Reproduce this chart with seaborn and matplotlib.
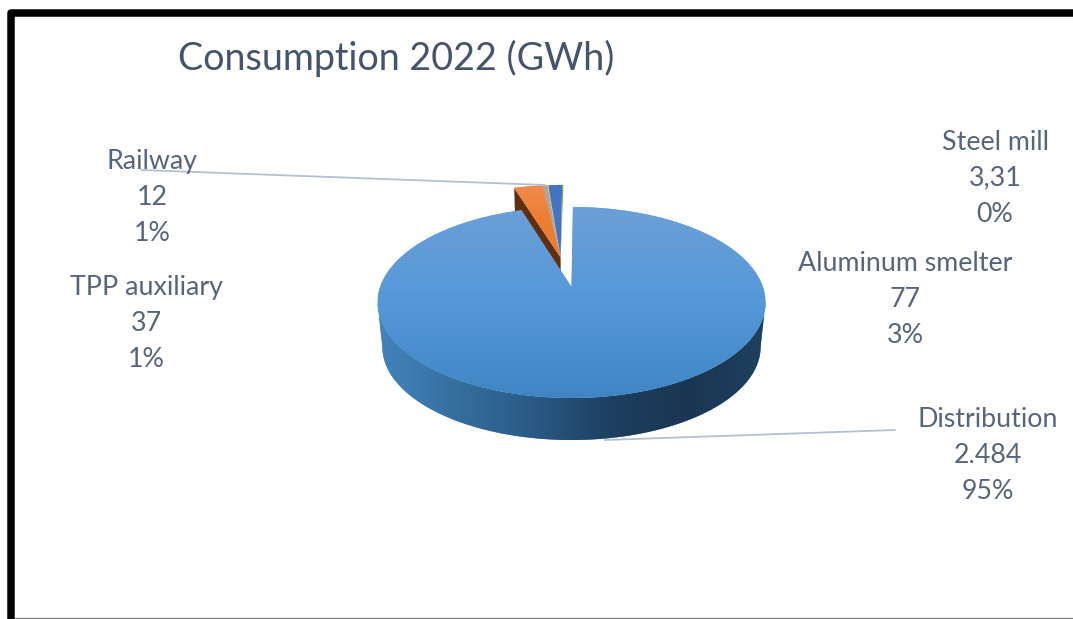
# -*- coding: utf-8 -*-
# Consumption 2022 pie, tilted Excel style
import numpy as np
import seaborn as sns
import matplotlib.pyplot as plt
from matplotlib.colors import LinearSegmentedColormap

sns.set_theme(style="white")
plt.rcParams['font.family'] = ['Lato', 'DejaVu Sans']

#%% Data
title = "Consumption 2022 (GWh)"
categories = ["Distribution", "Aluminum smelter", "Railway", "Other", "TPP auxiliary", "Steel mill"]
values = [2484, 77, 12, 2, 37, 3.31]
value_labels = ["2.484", "77", "12", "", "37", "3,31"]
pct_labels = ["95%", "3%", "1%", "", "1%", "0%"]
colors = sns.color_palette(["#5B9BD5", "#ED7D31", "#A5A5A5", "#FFC000", "#4472C4", "#70AD47"])

# label centre x and first line baseline y, pixels
label_x = [988, 905, 152, 0, 146, 995]
label_y = [427, 271, 169, 0, 295, 150]

#%% Layout of the tilted disc (pixels)
cx, tip_y = 571.5, 287.0
a, b, k = 191.4, 93.0, 0.162
depth, shrink = 44.8, 0.975
small_shift = (-0.06, 0.335)
text_col = "#56657B"
W, H = 1073, 619


def project(x, y):
    w = 1 + k * y
    return cx + a * x / w, tip_y - b * y / w


def lower(X, Y):
    return cx + shrink * (X - cx), tip_y + shrink * (Y - tip_y) + depth


def wedge_outline(t1, t2, shift=(0, 0)):
    t = np.radians(np.linspace(t1, t2, 240))
    x = np.r_[0, np.cos(t), 0] + shift[0]
    y = np.r_[0, np.sin(t), 0] + shift[1]
    return project(x, y)


def gradient_fill(ax, xs, ys, stops, vertical=True, zorder=2):
    patch = ax.fill(xs, ys, color=stops[0], lw=0, zorder=zorder)[0]
    cmap = LinearSegmentedColormap.from_list("g", stops)
    ramp = np.linspace(0, 1, 256)
    ramp = ramp[:, None] if vertical else ramp[None, :]
    im = ax.imshow(ramp, cmap=cmap, aspect="auto", zorder=zorder,
                   extent=(min(xs), max(xs), max(ys), min(ys)), interpolation="bilinear")
    im.set_clip_path(patch)


#%% Plot
fig = plt.figure(figsize=(W / 100, H / 100), dpi=100)
ax = fig.add_axes([0, 0, 1, 1])

wedges, _ = ax.pie(values, startangle=89.5, counterclock=False)
for w in wedges:
    w.set_visible(False)
ax.set_aspect("auto")
ax.axis("off")

main = wedges[0]

# Side of the main slice, between the two widest points of the disc
t = np.radians(np.linspace(-170.7, -9.3, 300))
tx, ty = project(np.cos(t), np.sin(t))
bx, by = lower(tx, ty)
side_x = np.r_[tx, bx[::-1]]
side_y = np.r_[ty, by[::-1]]
gradient_fill(ax, side_x, side_y,
              ["#4383BC", "#356F9F", "#2A5A85", "#1E3F60", "#1A3652", "#1F4060"],
              vertical=False, zorder=2)

# Small slices, pulled out as a group
small = wedges[1:]
fx, fy = wedge_outline(small[0].theta1, small[0].theta2, small_shift)
# radial cut face of the orange slice, apex to its left corner
lx0, ly0 = lower(fx[0], fy[0])
lx1, ly1 = lower(fx[-2], fy[-2])
ax.fill([fx[0], fx[-2], lx1, lx0], [fy[0], fy[-2], ly1, ly0], color="#5F2F0E", lw=0, zorder=3)
for i, (w, col) in enumerate(zip(small, colors[1:])):
    sx, sy = wedge_outline(w.theta1, w.theta2, small_shift)
    if i == 0:
        gradient_fill(ax, sx, sy, ["#F08C4E", "#ED7D31", "#ED7D31"], zorder=4)
    else:
        ax.fill(sx, sy, color=col, lw=0, zorder=4)

# Top of the main slice
mx, my = wedge_outline(main.theta1, main.theta2)
gradient_fill(ax, mx, my, ["#6BA0D6", "#5498DA", "#4085C3"], zorder=5)

ax.set_xlim(0, W)
ax.set_ylim(H, 0)

# Leader lines
ax.plot([141, 545], [170, 185], color="#B4C0D0", lw=1.3, zorder=6)
ax.plot([895, 605], [430, 440], color="#B4C0D0", lw=1.3, zorder=6)

# Labels
for name, val, pct, x, y in zip(categories, value_labels, pct_labels, label_x, label_y):
    if not val:
        continue
    for j, line in enumerate([name, val, pct]):
        ax.text(x, y + j * 35.8, line, ha="center", va="baseline", fontsize=19.3,
                color=text_col, zorder=7)

ax.text(178, 58, title, ha="left", va="center", fontsize=27.2, color="#44546A", zorder=7)

# Frame of the screenshot
ax.plot([11, 11, W], [H, 13, 13], color="black", lw=5.4, solid_joinstyle="round",
        solid_capstyle="butt", zorder=8)
ax.plot([15, W], [617.5, 617.5], color="#808080", lw=1.0, zorder=8)

fig.savefig("out.png", dpi=100)
